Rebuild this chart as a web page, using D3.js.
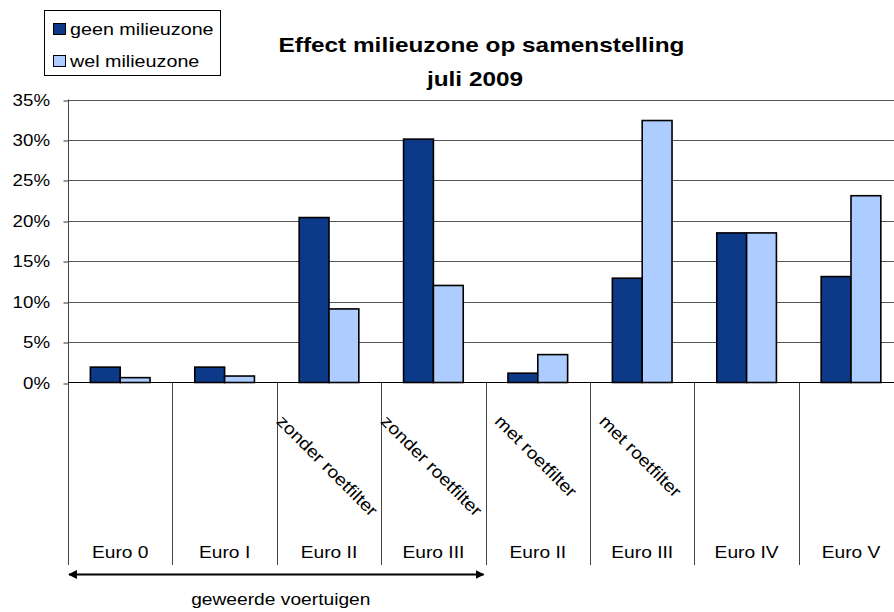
<!DOCTYPE html>
<html>
<head>
<meta charset="utf-8">
<script src="https://cdn.jsdelivr.net/npm/d3@7"></script>
<style>
  body { margin: 0; background: #fff; }
  text { font-family: "Liberation Sans", Arial, sans-serif; fill: #000; }
</style>
</head>
<body>
<div id="chart"></div>
<script>
// data (percent)
const categories = ['Euro 0', 'Euro I', 'Euro II', 'Euro III', 'Euro II', 'Euro III', 'Euro IV', 'Euro V']
const subLabels = ['', '', 'zonder roetfilter', 'zonder roetfilter', 'met roetfilter', 'met roetfilter', '', '']
const seriesNames = ['geen milieuzone', 'wel milieuzone']
const geen = [1.9, 1.9, 20.4, 30.1, 1.15, 12.9, 18.5, 13.1]
const wel = [0.6, 0.8, 9.1, 12.0, 3.45, 32.4, 18.5, 23.1]
const yTicks = [0, 5, 10, 15, 20, 25, 30, 35]
const titleLines = ['Effect milieuzone op samenstelling', 'juli 2009']
const bracketLabel = 'geweerde voertuigen'
const bracketFrom = 0, bracketTo = 3   // category indices under the arrow

const colors = ['#0c3a88', '#adccff']
const W = 894, H = 612
const sx = 1.13   // picture is stretched sideways a little

const svg = d3.select('#chart').append('svg')
    .attr('width', W).attr('height', H)

const x = d3.scaleBand()
    .domain(categories.map((d, i) => i))
    .range([68, 903.2])
const xs = d3.scaleBand()
    .domain([0, 1])
    .range([0, x.bandwidth()])
    .paddingOuter(0.75)
const y = d3.scaleLinear()
    .domain([0, 35])
    .range([382.5, 99.5])

function label(g, str, tx, ty, opts) {
    opts = opts || {}
    const t = g.append('g')
        .attr('transform', `translate(${tx},${ty}) scale(${opts.sx || sx},1)`)
        .append('text')
        .attr('text-anchor', opts.anchor || 'start')
        .style('font-size', (opts.size || 17) + 'px')
        .text(str)
    if (opts.bold) t.style('font-weight', 'bold')
    return t
}

// gridlines
svg.append('g')
    .selectAll('line')
    .data(yTicks.filter(d => d > 0))
    .join('line')
    .attr('x1', 68).attr('x2', W)
    .attr('y1', d => Math.round(y(d)) + 0.5)
    .attr('y2', d => Math.round(y(d)) + 0.5)
    .attr('stroke', '#555')
    .attr('stroke-width', 1)

// y axis
const yAxis = d3.axisLeft(y).tickValues(yTicks).tickSize(5).tickFormat('')
const gy = svg.append('g').attr('transform', 'translate(68.5,0)').call(yAxis)
gy.select('.domain').remove()
gy.selectAll('line').attr('stroke', '#333')
    .attr('transform', d => `translate(0,${Math.round(y(d)) + 0.5 - y(d)})`)
yTicks.forEach(d => {
    label(svg, d + '%', 50, y(d) + 6, { anchor: 'end', sx: 1.1 })
})

// category separators (run from the axis down under the labels)
const seps = d3.range(categories.length + 1).map(i => i === categories.length ? 903.2 : x(i))
svg.append('g')
    .selectAll('line')
    .data(seps)
    .join('line')
    .attr('x1', d => Math.round(d) + 0.5).attr('x2', d => Math.round(d) + 0.5)
    .attr('y1', (d, i) => i === 0 ? 99.5 : 382.5)
    .attr('y2', 565)
    .attr('stroke', '#444')

// bars
const rows = categories.map((c, i) => [geen[i], wel[i]])
const groups = svg.append('g')
    .selectAll('g')
    .data(rows)
    .join('g')
    .attr('transform', (d, i) => `translate(${x(i)},0)`)
groups.selectAll('rect')
    .data(d => d)
    .join('rect')
    .attr('x', (d, j) => xs(j))
    .attr('width', xs.bandwidth())
    .attr('y', d => y(d))
    .attr('height', d => y(0) - y(d))
    .attr('fill', (d, j) => colors[j])
    .attr('stroke', '#000')
    .attr('stroke-width', 1.6)

// baseline
svg.append('line')
    .attr('x1', 68).attr('x2', W)
    .attr('y1', 382.5).attr('y2', 382.5)
    .attr('stroke', '#000').attr('stroke-width', 1.2)

// category labels
categories.forEach((c, i) => {
    label(svg, c, x(i) + x.bandwidth() / 2, 558, { anchor: 'middle' })
})

// rotated sub labels
subLabels.forEach((s, i) => {
    if (!s) return
    const g = svg.append('g')
    const t = g.append('text')
        .attr('text-anchor', 'middle')
        .attr('dominant-baseline', 'central')
        .style('font-size', '17px')
        .text(s)
    const len = t.node().getComputedTextLength() * 1.14
    const cx = x(i) + x.bandwidth() / 2 - 2
    const cy = 414 + (len + 12) * Math.SQRT1_2 / 2
    g.attr('transform', `translate(${cx},${cy}) rotate(45) scale(1.14,1)`)
})

// arrow under the banned vehicles
const defs = svg.append('defs')
defs.append('marker')
    .attr('id', 'ah')
    .attr('viewBox', '0 0 10 10')
    .attr('refX', 9).attr('refY', 5)
    .attr('markerWidth', 4).attr('markerHeight', 4)
    .attr('orient', 'auto-start-reverse')
    .append('path').attr('d', 'M0,0L10,5L0,10Z').attr('fill', '#000')
const ax0 = x(bracketFrom), ax1 = x(bracketTo) + x.bandwidth()
svg.append('line')
    .attr('x1', ax0 + 1).attr('x2', ax1 - 2)
    .attr('y1', 574.5).attr('y2', 574.5)
    .attr('stroke', '#000').attr('stroke-width', 2.2)
    .attr('marker-start', 'url(#ah)')
    .attr('marker-end', 'url(#ah)')
label(svg, bracketLabel, (ax0 + ax1) / 2 + 4, 605, { anchor: 'middle' })

// title
label(svg, titleLines[0], 481.5, 51.5, { anchor: 'middle', size: 21, bold: true, sx: 1.16 })
label(svg, titleLines[1], 475, 85.5, { anchor: 'middle', size: 21, bold: true, sx: 1.16 })

// legend
const lg = svg.append('g')
lg.append('rect')
    .attr('x', 44.5).attr('y', 10.5)
    .attr('width', 176).attr('height', 65)
    .attr('fill', '#fff').attr('stroke', '#000')
seriesNames.forEach((s, j) => {
    const by = 35 + j * 32
    lg.append('rect')
        .attr('x', 53.5).attr('y', by - 11.5)
        .attr('width', 12).attr('height', 11)
        .attr('fill', colors[j]).attr('stroke', '#000')
    label(lg, s, 70, by, { sx: 1.16 })
})
</script>
</body>
</html>
